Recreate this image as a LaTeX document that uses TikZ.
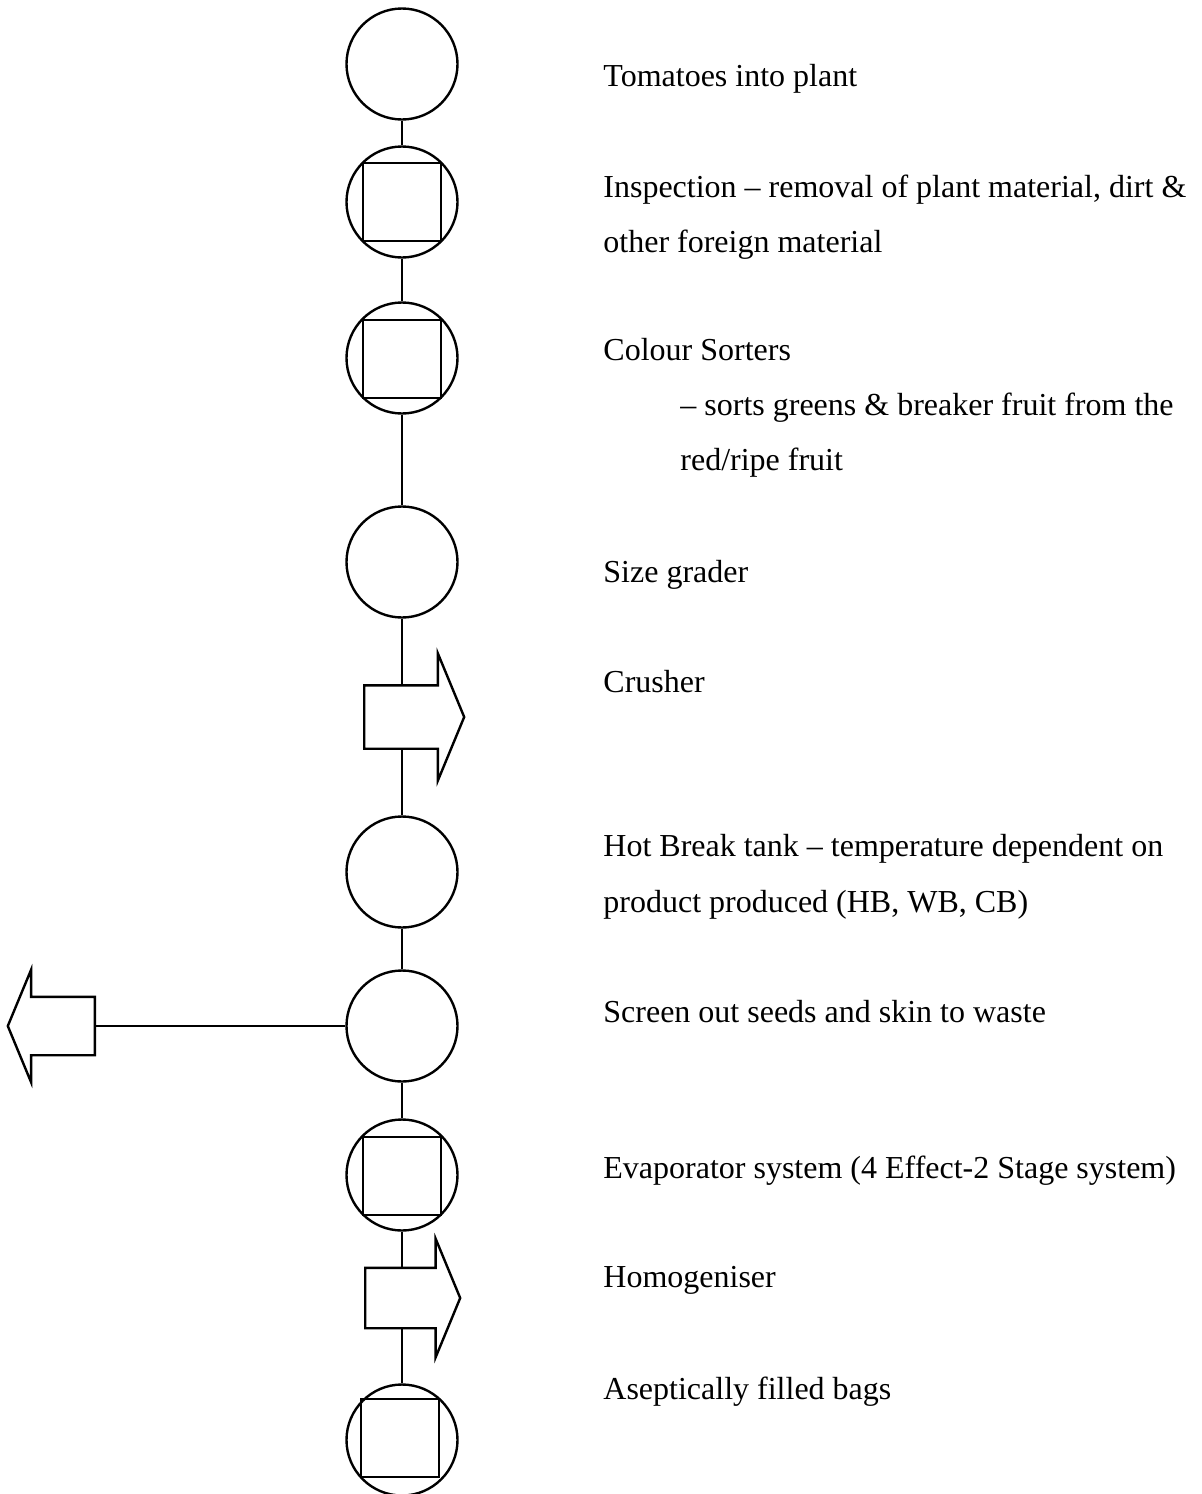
\documentclass[tikz,border=0pt]{standalone}
\usepackage{fontspec}
\setmainfont{Liberation Serif}
\usetikzlibrary{shapes.arrows}

\tikzset{
    stage/.style={draw, circle, minimum size=55.5pt, inner sep=0pt, line width=1.2pt},
    inbox/.style={draw, rectangle, minimum size=39pt, inner sep=0pt, line width=1.2pt},
    flow/.style={line width=1.2pt},
    bigarrow/.style={draw, fill=white, single arrow, single arrow tip angle=135, inner xsep=0pt, line width=1.2pt},
    desc/.style={anchor=base west, inner sep=0pt, font=\fontsize{16}{27.5}\selectfont}
}

\begin{document}
\begin{tikzpicture}[x=0.5pt, y=-0.5pt]
        \useasboundingbox (0,0) rectangle (1201,1494);

        \node[stage] (plant) at (402,64) {};
        \node[stage] (inspect) at (402,202) {};
        \node[inbox] (inspectbox) at (402,202) {};
        \node[stage] (sorter) at (402,358) {};
        \node[inbox] (sorterbox) at (402,359) {};
        \node[stage] (grader) at (402,562) {};
        \node[stage] (hotbreak) at (402,872) {};
        \node[stage] (screen) at (402,1026) {};
        \node[stage] (evap) at (402,1175) {};
        \node[inbox] (evapbox) at (402,1176) {};
        \node[stage] (bags) at (402,1440) {};
        \node[inbox] (bagsbox) at (400,1438) {};

        \node[bigarrow, shape border rotate=180, anchor=tail, minimum height=43.5pt,
            inner ysep=14pt, single arrow head extend=13.5pt] (waste) at (96,1026) {};

        \draw[flow] (plant) -- (inspect);
        \draw[flow] (inspect) -- (sorter);
        \draw[flow] (sorter) -- (grader);
        \draw[flow] (grader) -- (hotbreak);
        \draw[flow] (hotbreak) -- (screen);
        \draw[flow] (screen) -- (evap);
        \draw[flow] (evap) -- (bags);
        \draw[flow] (screen) -- (waste.tail);

        \node[bigarrow, anchor=tail, minimum height=50pt, inner ysep=15.25pt,
            single arrow head extend=16pt] (crusher) at (363,717) {};
        \node[bigarrow, anchor=tail, minimum height=47.5pt, inner ysep=14.5pt,
            single arrow head extend=14.5pt] (homog) at (364,1298) {};

        \node[desc] (tplant) at (603,86) {Tomatoes into plant};
        \node[desc] (tinspect) at (603,197) {Inspection -- removal of plant material, dirt \&};
        \node[desc] (tinspect2) at (603,252) {other foreign material};
        \node[desc] (tsorter) at (603,360) {Colour Sorters};
        \node[desc] (tsorter2) at (680,415) {-- sorts greens \& breaker fruit from the};
        \node[desc] (tsorter3) at (680,470) {red/ripe fruit};
        \node[desc] (tgrader) at (603,582) {Size grader};
        \node[desc] (tcrusher) at (603,692) {Crusher};
        \node[desc] (thotbreak) at (603,856) {Hot Break tank -- temperature dependent on};
        \node[desc] (thotbreak2) at (603,912) {product produced (HB, WB, CB)};
        \node[desc] (tscreen) at (603,1022) {Screen out seeds and skin to waste};
        \node[desc] (tevap) at (603,1178) {Evaporator system (4 Effect-2 Stage system)};
        \node[desc] (thomog) at (603,1287) {Homogeniser};
        \node[desc] (tbags) at (603,1399) {Aseptically filled bags};
    \end{tikzpicture}
\end{document}
